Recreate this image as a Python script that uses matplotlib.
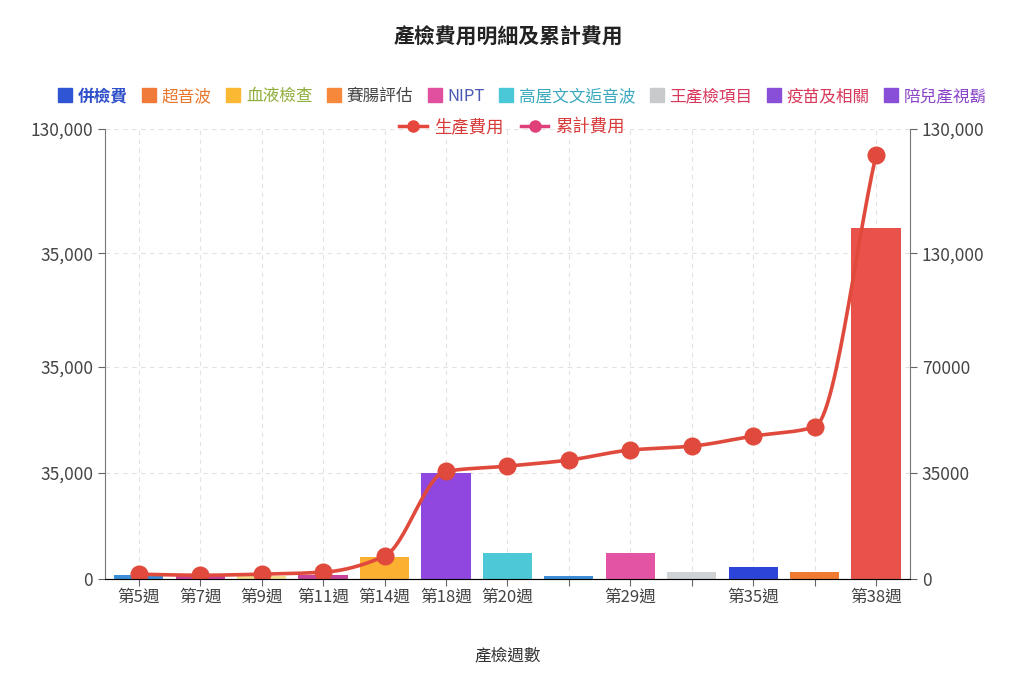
import numpy as np
import matplotlib
matplotlib.use("Agg")
import matplotlib.pyplot as plt
from matplotlib.lines import Line2D

plt.rcParams['font.family'] = ['Noto Sans CJK TC', 'DejaVu Sans']

# data
weeks = ["第5週", "第7週", "第9週", "第11週", "第14週", "第18週", "第20週",
         "", "第29週", "", "第35週", "", "第38週"]
cost = [1300, 900, 900, 1300, 7300, 35000, 8600, 1000, 8600, 2300, 4000, 2300, 115800]
cumulative = [1650, 1300, 1650, 2300, 7600, 35600, 37300, 39300, 42600, 43900, 47200, 50200, 140000]
bar_colors = ["#3a8ed8", "#c8409a", "#f3dc8c", "#c8439a", "#fbb032", "#8f47df", "#4cc8d6",
              "#3a8ed8", "#e355a4", "#cfd3d6", "#2c45d8", "#f07a30", "#e8524a"]

left_ticks = [0, 35000, 70000, 107500, 148500]
left_labels = ["0", "35,000", "35,000", "35,000", "130,000"]
right_labels = ["0", "35000", "70000", "130,000", "130,000"]

legend_names = ["併檢費", "超音波", "血液檢查", "賽腸評估", "NIPT",
                "高屋文文逅音波", "王產檢項目", "疫苗及相關", "陪兒產視鬍"]
legend_box_colors = ["#2f55d4", "#f07a3a", "#fbb832", "#f5883a", "#e0509e",
                     "#4ac8d8", "#c9cacc", "#8a4fd8", "#8a4fd8"]
legend_text_colors = ["#2d4fc9", "#e8772e", "#8fae3a", "#444444", "#4a58b0",
                      "#3aa9bd", "#d8365a", "#d8385a", "#8a45c8"]


def smooth(x, y, n=30):
    # monotone cubic (Fritsch-Carlson) just for drawing the curve
    x = np.asarray(x, float)
    y = np.asarray(y, float)
    h = np.diff(x)
    d = np.diff(y) / h
    m = np.zeros_like(y)
    m[0], m[-1] = d[0], d[-1]
    for i in range(1, len(y) - 1):
        if d[i - 1] * d[i] <= 0:
            m[i] = 0
        else:
            m[i] = 2 / (1 / d[i - 1] + 1 / d[i])
    xs, ys = [], []
    for i in range(len(h)):
        t = np.linspace(0, 1, n)
        h00 = 2 * t**3 - 3 * t**2 + 1
        h10 = t**3 - 2 * t**2 + t
        h01 = -2 * t**3 + 3 * t**2
        h11 = t**3 - t**2
        xs.append(x[i] + t * h[i])
        ys.append(h00 * y[i] + h10 * h[i] * m[i] + h01 * y[i + 1] + h11 * h[i] * m[i + 1])
    return np.concatenate(xs), np.concatenate(ys)


fig = plt.figure(figsize=(10.24, 6.83), dpi=100)
ax = fig.add_axes([0.1025, 0.152, 0.786, 0.659])

x = np.arange(len(weeks))
ax.bar(x, cost, width=0.8, color=bar_colors, zorder=2)

sx, sy = smooth(x, cumulative)
ax.plot(sx, sy, color="#e04a3c", lw=2.6, zorder=3)
ax.plot(x, cumulative, "o", color="#e04a3c", ms=12, zorder=4)

ax.set_xlim(-0.55, len(weeks) - 0.45)
ax.set_ylim(0, left_ticks[-1])
ax.set_yticks(left_ticks)
ax.set_yticklabels(left_labels)
ax.set_xticks(x)
ax.set_xticklabels(weeks)

ax.grid(True, ls=(0, (4, 4)), color="#e2e2e2", lw=0.8, zorder=0)
ax.set_axisbelow(True)

ax2 = ax.twinx()
ax2.set_ylim(ax.get_ylim())
ax2.set_yticks(left_ticks)
ax2.set_yticklabels(right_labels)

for a in (ax, ax2):
    a.spines["top"].set_visible(False)
    a.tick_params(colors="#666666", labelcolor="#444444", labelsize=12.5, length=5)
ax.spines["right"].set_visible(False)
ax2.spines["left"].set_visible(False)
ax2.spines["right"].set_color("#777777")
ax.spines["left"].set_color("#777777")
ax.spines["bottom"].set_color("#777777")
ax.tick_params(axis="x", labelsize=12, pad=2)

ax.set_xlabel("產檢週數", fontsize=12, color="#333333", labelpad=30)
fig.text(0.497, 0.945, "產檢費用明細及累計費用", ha="center", va="center",
         fontsize=15, fontweight="bold", color="#222222")

# legend row 1 (runs off the right edge like the original)
handles = [Line2D([], [], marker="s", ls="none", ms=10, color=c) for c in legend_box_colors]
leg1 = fig.legend(handles, legend_names, loc="center left", bbox_to_anchor=(0.05, 0.859),
                  ncol=9, frameon=False, fontsize=12, handletextpad=0.3,
                  columnspacing=0.85, handlelength=0.9, borderaxespad=0)
for t, c in zip(leg1.get_texts(), legend_text_colors):
    t.set_color(c)
leg1.get_texts()[0].set_fontweight("bold")

# legend row 2
h2 = [Line2D([], [], color="#e5473d", lw=2.5, marker="o", ms=8),
      Line2D([], [], color="#e0407a", lw=2.5, marker="o", ms=8)]
leg2 = fig.legend(h2, ["生產費用", "累計費用"], loc="center", bbox_to_anchor=(0.5, 0.814),
                  ncol=2, frameon=False, fontsize=12.5, handletextpad=0.4,
                  columnspacing=1.0, handlelength=1.6, borderaxespad=0)
for t in leg2.get_texts():
    t.set_color("#d83a3a")

fig.savefig("out.png", dpi=100, facecolor="white")
